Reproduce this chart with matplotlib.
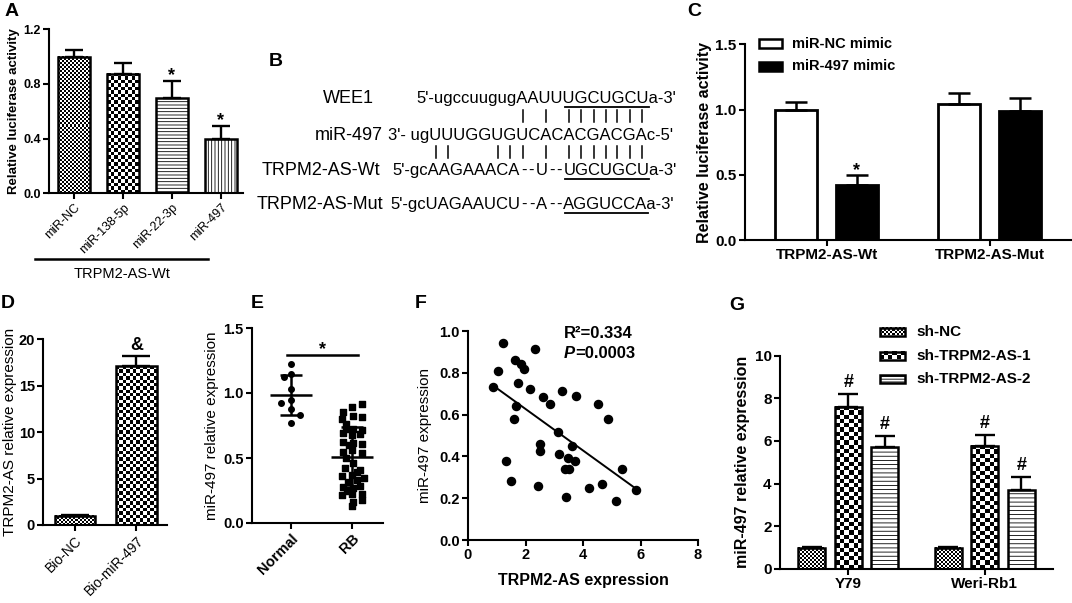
import numpy as np
import matplotlib
matplotlib.use("Agg")
import matplotlib.pyplot as plt
from matplotlib.patches import Rectangle

plt.rcParams['font.family'] = ['Liberation Sans', 'DejaVu Sans']
plt.rcParams['hatch.linewidth'] = 0.6

W, H = 1072, 603

# ---- A: luciferase, TRPM2-AS-Wt ----
a_labels = ["miR-NC", "miR-138-5p", "miR-22-3p", "miR-497"]
a_values = [1.0, 0.875, 0.70, 0.40]
a_errors = [0.045, 0.08, 0.12, 0.09]
a_marks = ["", "", "*", "*"]

# ---- B: binding sites ----
b_names = ["WEE1", "miR-497", "TRPM2-AS-Wt", "TRPM2-AS-Mut"]
b_seqs = ["5'-ugccuugugAAUUUGCUGCUa-3'",
          "3'- ugUUUGGUGUCACACGACGAc-5'",
          "5'-gcAAGAAACA--U--UGCUGCUa-3'",
          "5'-gcUAGAAUCU--A--AGGUCCAa-3'"]
b_underline = ["UGCUGCU", None, "UGCUGCU", "AGGUCCA"]
b_pairs_top = [13, 15, 17, 18, 19, 20, 21, 22, 23]
b_pairs_bottom = [6, 7, 11, 12, 13, 15, 17, 18, 19, 20, 21, 22, 23]

# ---- C: luciferase Wt / Mut ----
c_groups = ["TRPM2-AS-Wt", "TRPM2-AS-Mut"]
c_series = ["miR-NC mimic", "miR-497 mimic"]
c_values = [[1.0, 1.04], [0.42, 0.985]]
c_errors = [[0.06, 0.09], [0.08, 0.10]]

# ---- D: RNA pull-down ----
d_labels = ["Bio-NC", "Bio-miR-497"]
d_values = [1.0, 17.1]
d_errors = [0.05, 1.15]

# ---- E: normal vs RB ----
e_groups = ["Normal", "RB"]
e_normal = [1.22, 1.15, 1.12, 1.03, 0.95, 0.92, 0.88, 0.83, 0.77]
e_normal_dx = [0.0, 0.0, -0.11, 0.0, 0.0, -0.16, 0.0, 0.15, 0.0]
e_rb = [0.915, 0.895, 0.856, 0.823, 0.813, 0.798, 0.76, 0.72, 0.72, 0.715,
        0.69, 0.675, 0.685, 0.625, 0.615, 0.61, 0.548, 0.541, 0.56, 0.459,
        0.42, 0.408, 0.369, 0.36, 0.344, 0.318, 0.33, 0.279, 0.27, 0.285,
        0.215, 0.225, 0.225, 0.164, 0.18, 0.131, 0.50, 0.39, 0.60, 0.25]
e_rb_dx = [0.16, 0.0, -0.14, 0.02, 0.16, -0.17, -0.10, -0.09, 0.02, 0.16,
           -0.14, 0.0, 0.14, -0.14, 0.02, 0.16, -0.14, 0.16, 0.0, 0.02,
           -0.12, 0.14, 0.0, -0.17, 0.19, -0.06, 0.08, -0.14, 0.02, 0.13,
           -0.17, 0.0, 0.16, 0.02, 0.16, 0.0, -0.10, 0.08, -0.05, -0.08]

# ---- F: correlation ----
f_x = [1.22, 2.32, 1.04, 0.87, 1.65, 1.86, 1.95, 1.74, 2.14, 1.66, 1.59, 2.61,
       2.84, 3.26, 3.74, 4.53, 4.86, 3.14, 2.49, 2.50, 3.61, 3.16, 3.48, 3.72,
       3.39, 3.51, 1.33, 1.51, 2.45, 3.41, 4.20, 4.65, 5.34, 5.16, 5.84]
f_y = [0.941, 0.912, 0.81, 0.73, 0.861, 0.842, 0.82, 0.75, 0.721, 0.641, 0.581,
       0.683, 0.649, 0.711, 0.689, 0.649, 0.581, 0.518, 0.459, 0.427, 0.45,
       0.41, 0.391, 0.378, 0.338, 0.338, 0.378, 0.281, 0.26, 0.207, 0.249,
       0.27, 0.338, 0.188, 0.239]

# ---- G: knockdown ----
g_groups = ["Y79", "Weri-Rb1"]
g_series = ["sh-NC", "sh-TRPM2-AS-1", "sh-TRPM2-AS-2"]
g_values = [[1.0, 1.0], [7.6, 5.78], [5.7, 3.7]]
g_errors = [[0.05, 0.05], [0.6, 0.5], [0.53, 0.6]]


fig = plt.figure(figsize=(W / 100, H / 100), dpi=100)


def px_axes(left, top, right, bottom):
    return fig.add_axes([left / W, 1 - bottom / H, (right - left) / W, (bottom - top) / H])


def style(ax, lw=1.5):
    for s in ['top', 'right']:
        ax.spines[s].set_visible(False)
    for s in ['left', 'bottom']:
        ax.spines[s].set_linewidth(lw)
    ax.tick_params(width=lw, length=4, direction='out', pad=2)


def bold_ticks(ax, size, which='both'):
    ax.tick_params(labelsize=size)
    if which in ('both', 'y'):
        plt.setp(ax.get_yticklabels(), fontweight='bold')
    if which in ('both', 'x'):
        plt.setp(ax.get_xticklabels(), fontweight='bold')


def ylabel_at(ax, text, xpx, left, right, **kw):
    ax.set_ylabel(text, va='center', **kw)
    ax.yaxis.set_label_coords((xpx - left) / (right - left), 0.5)


def checker(ax, x0, x1, y0, y1, cell, z=1):
    p0 = ax.transData.transform((x0, y0))
    p1 = ax.transData.transform((x1, y1))
    nx = max(1, int(round(abs(p1[0] - p0[0]) / cell)))
    ny = max(1, int(round(abs(p1[1] - p0[1]) / cell)))
    board = np.indices((ny, nx)).sum(axis=0) % 2
    ax.imshow(board, cmap='gray', vmin=0, vmax=1, extent=(x0, x1, y0, y1),
              interpolation='nearest', aspect='auto', zorder=z)


def fill_bar(ax, bar, kind, cell=3.4, hatch='-----'):
    x0 = bar.get_x()
    x1 = x0 + bar.get_width()
    y1 = bar.get_height()
    if kind == 'fine':
        bar.set_facecolor('none')
        checker(ax, x0, x1, 0, y1, 2)
    elif kind == 'coarse':
        bar.set_facecolor('none')
        checker(ax, x0, x1, 0, y1, cell)
    else:
        bar.set_hatch(hatch)


def marks(ax, xs, tops, labels, dy, size=13):
    for x, t, m in zip(xs, tops, labels):
        if m:
            ax.annotate(m, (x, t), xytext=(0, dy), textcoords='offset points',
                        ha='center', va='baseline', fontsize=size, fontweight='bold')


# ================= A =================
aL, aT, aR, aB = 49, 29.3, 243, 193.3
axA = px_axes(aL, aT, aR, aB)
style(axA)
xa = np.arange(len(a_labels))
axA.set_xlim(-0.51, 3.45)
axA.set_ylim(0, 1.2)
axA.set_autoscale_on(False)
barsA = axA.bar(xa, a_values, 0.65, facecolor='white', edgecolor='black', linewidth=1.8, zorder=2)
for b, kind in zip(barsA, ['fine', 'coarse', 'h', 'v']):
    fill_bar(axA, b, kind, cell=3.4, hatch='-----' if kind == 'h' else '|||||')
axA.errorbar(xa, a_values, yerr=[np.zeros(4), a_errors], fmt='none', ecolor='black',
             elinewidth=1.7, capsize=6.5, capthick=1.7, zorder=3)
marks(axA, xa, np.add(a_values, a_errors), a_marks, 1)
axA.set_yticks([0, 0.4, 0.8, 1.2])
axA.set_xticks(xa)
axA.set_xticklabels(a_labels, rotation=45, ha='right', rotation_mode='anchor', fontsize=9)
axA.tick_params(axis='y', labelsize=9)
plt.setp(axA.get_yticklabels(), fontweight='bold')
ylabel_at(axA, "Relative luciferase activity", 14, aL, aR, fontsize=9.5, fontweight='bold')

# ================= C =================
cL, cT, cR, cB = 745, 44.3, 1071, 240
axC = px_axes(cL, cT, cR, cB)
style(axC)
xc = np.arange(len(c_groups))
for i, (vals, errs, col) in enumerate(zip(c_values, c_errors, ['white', 'black'])):
    xs = xc + (-0.186 if i == 0 else 0.186)
    axC.bar(xs, vals, 0.256, facecolor=col, edgecolor='black', linewidth=2, zorder=2)
    axC.errorbar(xs, vals, yerr=[np.zeros(2), errs], fmt='none', ecolor='black',
                 elinewidth=1.8, capsize=8, capthick=1.8, zorder=3)
    if i == 1:
        marks(axC, xs, np.add(vals, errs), ["*", ""], 0)
axC.set_xlim(-0.5, 1.5)
axC.set_ylim(0, 1.5)
axC.set_yticks([0, 0.5, 1.0, 1.5])
axC.set_xticks(xc)
axC.set_xticklabels(c_groups)
bold_ticks(axC, 11)
ylabel_at(axC, "Relative luciferase activity", 705, cL, cR, fontsize=11.5, fontweight='bold')

# ================= D =================
dL, dT, dR, dB = 43.3, 339.3, 167, 525
axD = px_axes(dL, dT, dR, dB)
style(axD)
xd = np.arange(len(d_labels))
axD.set_xlim(-0.52, 1.5)
axD.set_ylim(0, 20)
axD.set_autoscale_on(False)
barsD = axD.bar(xd, d_values, 0.66, facecolor='white', edgecolor='black', linewidth=1.8, zorder=2)
for b, kind in zip(barsD, ['fine', 'coarse']):
    fill_bar(axD, b, kind, cell=3.4)
axD.errorbar(xd, d_values, yerr=[np.zeros(2), d_errors], fmt='none', ecolor='black',
             elinewidth=1.7, capsize=10, capthick=1.7, zorder=3)
marks(axD, xd, np.add(d_values, d_errors), ["", "&"], 4)
axD.set_yticks([0, 5, 10, 15, 20])
axD.set_xticks(xd)
axD.set_xticklabels(d_labels, rotation=45, ha='right', rotation_mode='anchor', fontsize=10)
axD.tick_params(axis='y', labelsize=10.5)
plt.setp(axD.get_yticklabels(), fontweight='bold')
ylabel_at(axD, "TRPM2-AS relative expression", 10, dL, dR, fontsize=11)

# ================= E =================
eL, eT, eR, eB = 252, 328, 383, 523
axE = px_axes(eL, eT, eR, eB)
style(axE)
axE.scatter(0 + np.array(e_normal_dx), e_normal, s=16, marker='o', color='black', zorder=2)
axE.scatter(1 + np.array(e_rb_dx), e_rb, s=16, marker='s', color='black', zorder=2)
for xg, vals in zip([0, 1], [e_normal, e_rb]):
    m, sd = np.mean(vals), np.std(vals, ddof=1)
    axE.hlines(m, xg - 0.34, xg + 0.34, color='black', linewidth=1.8, zorder=3)
    axE.errorbar([xg], [m], yerr=[sd], fmt='none', ecolor='black', elinewidth=1.8,
                 capsize=8, capthick=1.8, zorder=3)
axE.plot([-0.07, 1.1], [1.29, 1.29], color='black', linewidth=1.8)
axE.text(0.52, 1.30, "*", ha='center', va='baseline', fontsize=13, fontweight='bold')
axE.set_xlim(-0.64, 1.51)
axE.set_ylim(0, 1.5)
axE.set_yticks([0, 0.5, 1.0, 1.5])
axE.set_xticks([0, 1])
axE.set_xticklabels(e_groups, rotation=45, ha='right', rotation_mode='anchor')
bold_ticks(axE, 10.5)
ylabel_at(axE, "miR-497 relative expression", 212, eL, eR, fontsize=11)

# ================= F =================
fL, fT, fR, fB = 468, 331, 698, 540
axF = px_axes(fL, fT, fR, fB)
style(axF)
axF.scatter(f_x, f_y, s=34, color='black', zorder=3)
k, c0 = np.polyfit(f_x, f_y, 1)
xx = np.array([min(f_x), max(f_x)])
axF.plot(xx, k * xx + c0, color='black', linewidth=1.4, zorder=2)
axF.set_xlim(0, 8)
axF.set_ylim(0, 1.0)
axF.set_xticks([0, 2, 4, 6, 8])
axF.set_yticks([0, 0.2, 0.4, 0.6, 0.8, 1.0])
bold_ticks(axF, 10.5)
ylabel_at(axF, "miR-497 expression", 425, fL, fR, fontsize=11)
axF.set_xlabel("TRPM2-AS expression", fontsize=11.5, fontweight='bold', va='center')
axF.xaxis.set_label_coords(0.5, (fB - 580) / (fB - fT))

# ================= G =================
gL, gT, gR, gB = 780, 355.5, 1053, 569
axG = px_axes(gL, gT, gR, gB)
style(axG)
xg = np.arange(len(g_groups))
axG.set_xlim(-0.5, 1.5)
axG.set_ylim(0, 10)
axG.set_autoscale_on(False)
for i, (vals, errs, kind) in enumerate(zip(g_values, g_errors, ['fine', 'coarse', 'h'])):
    xs = xg + (i - 1) * 0.269
    bars = axG.bar(xs, vals, 0.198, facecolor='white', edgecolor='black', linewidth=1.8, zorder=2)
    for b in bars:
        fill_bar(axG, b, kind, cell=4.3, hatch='----')
    axG.errorbar(xs, vals, yerr=[np.zeros(2), errs], fmt='none', ecolor='black',
                 elinewidth=1.7, capsize=7, capthick=1.7, zorder=3)
    if i > 0:
        marks(axG, xs, np.add(vals, errs), ["#", "#"], 5)
axG.set_yticks([0, 2, 4, 6, 8, 10])
axG.set_xticks(xg)
axG.set_xticklabels(g_groups)
bold_ticks(axG, 11)
ylabel_at(axG, "miR-497 relative expression", 743, gL, gR, fontsize=11.5, fontweight='bold')

# ================= overlay (pixel coordinates) =================
ov = fig.add_axes([0, 0, 1, 1])
ov.set_xlim(0, W)
ov.set_ylim(H, 0)
ov.axis('off')

for letter, (lx, ly) in zip("ABCDEFG", [(12, 12), (276, 62), (694, 12), (8, 304),
                                       (257, 304), (421, 304), (737, 305)]):
    ov.text(lx, ly, letter, ha='center', va='center', fontsize=14, fontweight='bold')

# A group annotation
ov.plot([35, 208], [259, 259], color='black', linewidth=1.8)
ov.text(122, 274, "TRPM2-AS-Wt", ha='center', va='center', fontsize=10.5)

# B sequences
renderer = fig.canvas.get_renderer()
seq_fs = 12


def width_of(s):
    if not s:
        return 0.0
    t = ov.text(0, 0, s, fontsize=seq_fs)
    w = t.get_window_extent(renderer).width
    t.remove()
    return w


def char_center(x0, s, i):
    return x0 + (width_of(s[:i]) + width_of(s[:i + 1])) / 2 + 0.5


b_base = [103, 140, 175, 209]
b_name_right = [374, 383, 380, 383]
b_start = [423, 388, 392, 390]
mir = b_seqs[1]
# left edge of the first letter of the seed block in miR-497
seed_left = b_start[1] + width_of(mir[:b_pairs_top[2]]) + 1.5

for name, seq, ul, yb, xr, x0 in zip(b_names, b_seqs, b_underline, b_base, b_name_right, b_start):
    ov.text(xr, yb, name, ha='right', va='baseline', fontsize=13)
    if ul is None:
        ov.text(x0, yb, seq, ha='left', va='baseline', fontsize=seq_fs)
        continue
    parts = seq.split('--')
    if len(parts) == 3:
        pre, mid, tail = parts[0], '--' + parts[1] + '--', parts[2]
        j = tail.find(ul)
        xt = seed_left - width_of(tail[:j]) - 1.5
        pre_end = x0 + width_of(pre)
        ov.text(x0, yb, pre, ha='left', va='baseline', fontsize=seq_fs)
        # spread the gap characters evenly between the two blocks
        ws = [width_of(ch) for ch in mid]
        gap = (xt - pre_end - sum(ws)) / (len(mid) + 1)
        xc_ = pre_end + gap
        for ch, w in zip(mid, ws):
            ov.text(xc_, yb, ch, ha='left', va='baseline', fontsize=seq_fs)
            xc_ += w + gap
    else:
        tail = seq
        j = tail.find(ul)
        xt = seed_left - width_of(tail[:j]) - 1.5
    ov.text(xt, yb, tail, ha='left', va='baseline', fontsize=seq_fs)
    xa0 = xt + width_of(tail[:j]) + 1.5
    xa1 = xt + width_of(tail[:j + len(ul)])
    ov.plot([xa0, xa1], [yb + 4, yb + 4], color='black', linewidth=1.3)

for idxs, (y0, y1) in [(b_pairs_top, (109.5, 121.5)), (b_pairs_bottom, (145.5, 157.5))]:
    for i in idxs:
        cx = char_center(b_start[1], mir, i)
        ov.plot([cx, cx], [y0, y1], color='black', linewidth=1.1)

# F statistics
ov.text(564, 333, "R²=0.334", ha='left', va='center', fontsize=12, fontweight='bold')
tP = ov.text(564, 353, "P", ha='left', va='center', fontsize=12, fontweight='bold', style='italic')
ov.annotate("=0.0003", xy=(1, 0), xycoords=tP, ha='left', va='bottom',
            fontsize=12, fontweight='bold')

# C legend
for (ytop, col), name in zip([(39, 'white'), (62, 'black')], c_series):
    ov.add_patch(Rectangle((759, ytop), 23, 9, facecolor=col, edgecolor='black', linewidth=1.8))
    ov.text(792, ytop + 4.5, name, ha='left', va='center', fontsize=10.5, fontweight='bold')

# G legend
for ytop, name, kind in zip([327.5, 351.5, 375], g_series, ['fine', 'coarse', 'h']):
    if kind == 'fine':
        checker(ov, 880, 905, ytop, ytop + 8, 2, z=1)
        ov.add_patch(Rectangle((880, ytop), 25, 8, facecolor='none', edgecolor='black', linewidth=1.8, zorder=2))
    elif kind == 'coarse':
        checker(ov, 880, 905, ytop, ytop + 8, 4, z=1)
        ov.add_patch(Rectangle((880, ytop), 25, 8, facecolor='none', edgecolor='black', linewidth=1.8, zorder=2))
    else:
        ov.add_patch(Rectangle((880, ytop), 25, 8, facecolor='white', edgecolor='black',
                               linewidth=1.8, hatch='------', zorder=2))
    ov.text(916.7, ytop + 4, name, ha='left', va='center', fontsize=11, fontweight='bold')

ov.set_xlim(0, W)
ov.set_ylim(H, 0)

fig.savefig("out.png", dpi=100)
